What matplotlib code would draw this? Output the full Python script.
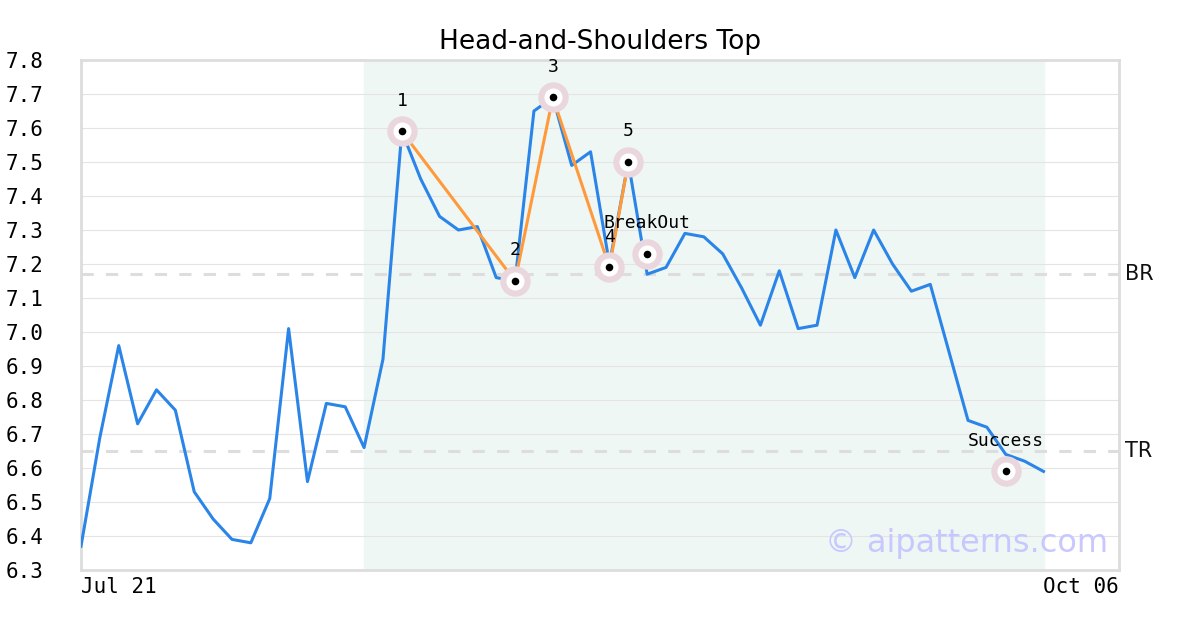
import matplotlib

matplotlib.use("Agg")
import matplotlib.pyplot as plt

# price per trading day, Jul 21 .. (index 0..51), axis ends at Oct 06 (index 55)
prices = [6.37, 6.69, 6.96, 6.73, 6.83, 6.77, 6.53, 6.45, 6.39, 6.38,
          6.51, 7.01, 6.56, 6.79, 6.78, 6.66, 6.92, 7.59, 7.45, 7.34,
          7.30, 7.31, 7.16, 7.15, 7.65, 7.69, 7.49, 7.53, 7.20, 7.50,
          7.17, 7.19, 7.29, 7.28, 7.23, 7.13, 7.02, 7.18, 7.01, 7.02,
          7.30, 7.16, 7.30, 7.20, 7.12, 7.14, 6.94, 6.74, 6.72, 6.64,
          6.62, 6.59]
x_end = 55
x_labels = ["Jul 21", "Oct 06"]

pattern_start, pattern_end = 15, 51

# pivot points of the pattern
pivot_x = [17, 23, 25, 28, 29]
pivot_y = [7.59, 7.15, 7.69, 7.19, 7.50]
pivot_labels = ["1", "2", "3", "4", "5"]

# extra events
event_x = [30, 49]
event_y = [7.23, 6.59]
event_labels = ["BreakOut", "Success"]

levels = {"BR": 7.17, "TR": 6.65}

y_min, y_max = 6.3, 7.8
y_ticks = [round(6.3 + 0.1 * i, 1) for i in range(16)]

MONO = "DejaVu Sans Mono"

fig = plt.figure(figsize=(12, 6.3), dpi=100)
ax = fig.add_axes([81 / 1200, 1 - 570 / 630, 1038 / 1200, 510 / 630])

ax.axvspan(pattern_start, pattern_end, color="#eff7f4", zorder=0)
for yv in y_ticks:
    ax.axhline(yv, color="#e4e4e4", lw=0.8, zorder=1)

for name, yv in levels.items():
    ax.axhline(yv, color="#dddddd", lw=2.2, dashes=(4, 4), zorder=2)
    ax.text(x_end + 0.3, yv, name, fontsize=15, va="center", ha="left",
            color="#111111")

ax.plot(range(len(prices)), prices, color="#2b85e8", lw=2.2, zorder=3)
ax.plot(pivot_x, pivot_y, color="#ff9a3c", lw=2.2, zorder=4)

mx = pivot_x + event_x
my = pivot_y + event_y
ax.scatter(mx, my, s=480, color="#ead6dd", zorder=5, linewidths=0)
ax.scatter(mx, my, s=170, color="white", zorder=6, linewidths=0)
ax.scatter(mx, my, s=30, color="black", zorder=7, linewidths=0)

for xv, yv, lab in zip(mx, my, pivot_labels + event_labels):
    ax.annotate(lab, (xv, yv), xytext=(0, 22), textcoords="offset points",
                ha="center", va="center", fontsize=13, family=MONO,
                zorder=8)

ax.text(0.99, 0.022, "\u00a9 aipatterns.com", transform=ax.transAxes,
        ha="right", va="bottom", fontsize=23, color="#c8c8ff", zorder=9)

ax.set_xlim(0, x_end)
ax.set_ylim(y_min, y_max)
ax.set_yticks(y_ticks)
ax.set_yticklabels([f"{v:.1f}" for v in y_ticks], family=MONO, fontsize=15)
ax.set_xticks([0, x_end])
ax.set_xticklabels(x_labels, family=MONO, fontsize=15)
xt = ax.get_xticklabels()
xt[0].set_ha("left")
xt[1].set_ha("right")
ax.tick_params(axis="y", length=0, pad=27)
ax.tick_params(axis="x", length=0, pad=5)

for sp in ax.spines.values():
    sp.set_color("#dddddd")
    sp.set_linewidth(2)

ax.set_title("Head-and-Shoulders Top", fontsize=19, pad=8)

fig.savefig("out.png", dpi=100)
